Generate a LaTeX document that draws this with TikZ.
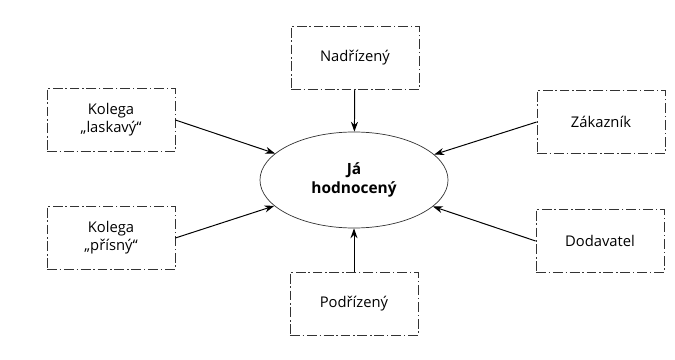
\documentclass[tikz,border=0pt]{standalone}
\usepackage{fontspec}
\setmainfont{Open Sans}
\usepackage{tikz}
\usetikzlibrary{shapes.geometric,arrows.meta}

\begin{document}
\begin{tikzpicture}[x=0.025cm,y=-0.025cm,
    role/.style={draw=black!80,line width=0.5pt,dash pattern=on 7pt off 2pt on 1pt off 2pt,
        minimum width=3.2cm,minimum height=1.58cm,align=center,font=\fontsize{10.5}{13}\selectfont},
    arr/.style={-{Stealth[length=7pt,width=5pt]},line width=0.7pt}]
    \useasboundingbox (0,0) rectangle (675,360);

    % The person being assessed
    \node[draw=black!80,ellipse,line width=0.5pt,minimum width=4.7cm,minimum height=2.4cm,
        align=center,font=\bfseries\fontsize{11}{14}\selectfont] (ja) at (354,180) {Já\\hodnocený};

    % Assessors around
    \node[role] (nadr) at (355,58) {Nadřízený};           % above
    \node[role] (podr) at (354,304) {Podřízený};          % below
    \node[role] (kolL) at (111,120) {Kolega\\„laskavý“};   % top left
    \node[role] (kolP) at (111,238) {Kolega\\„přísný“};    % bottom left
    \node[role] (zak) at (601,122) {Zákazník};            % top right
    \node[role] (dod) at (600,241) {Dodavatel};           % bottom right

    % Arrows to the centre
    \draw[arr] (nadr) -- (ja);
    \draw[arr] (podr) -- (ja);
    \draw[arr] (kolL.east) -- (ja);
    \draw[arr] (kolP.east) -- (ja);
    \draw[arr] (zak.west) -- (ja);
    \draw[arr] (dod.west) -- (ja);
\end{tikzpicture}
\end{document}
